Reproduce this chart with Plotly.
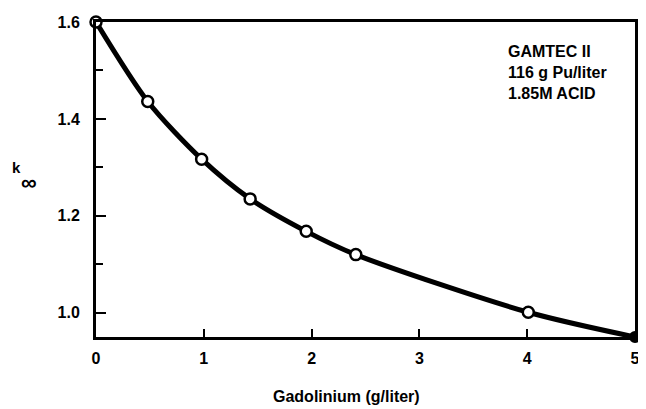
import plotly.graph_objects as go

gd = [0.0, 0.48, 0.98, 1.43, 1.95, 2.41, 4.01, 5.0]
kinf = [1.600, 1.436, 1.317, 1.235, 1.168, 1.120, 1.001, 0.950]
open_pts = 7  # first seven points drawn as open circles, last is filled

y_ticks = [1.0, 1.2, 1.4, 1.6]
y_labels = ["1.0", "1.2", "1.4", "1.6"]
x_ticks = [0, 1, 2, 3, 4, 5]
x_labels = ["0", "1", "2", "3", "4", "5"]

font = "Liberation Sans"

fig = go.Figure()
fig.add_trace(go.Scatter(
    x=gd, y=kinf, mode="lines",
    line=dict(color="black", width=5, shape="spline", smoothing=0.8),
    cliponaxis=False, hoverinfo="skip"))
fig.add_trace(go.Scatter(
    x=gd[:open_pts], y=kinf[:open_pts], mode="markers",
    marker=dict(symbol="circle", size=11, color="white",
                line=dict(color="black", width=2.5)),
    cliponaxis=False))
fig.add_trace(go.Scatter(
    x=gd[open_pts:], y=kinf[open_pts:], mode="markers",
    marker=dict(symbol="circle", size=10, color="black",
                line=dict(color="black", width=2)),
    cliponaxis=False))

fig.update_layout(
    width=638, height=401,
    margin=dict(l=88, r=6, t=9, b=72),
    paper_bgcolor="white", plot_bgcolor="white",
    showlegend=False,
    font=dict(family=font, color="black"),
    xaxis=dict(range=[0, 5], tickvals=x_ticks, ticktext=x_labels,
               ticks="inside", ticklen=8, tickwidth=1.5, tickcolor="black",
               ticklabelstandoff=5, ticklabeloverflow="allow",
               showline=True, linecolor="black", linewidth=3, mirror=True,
               showgrid=False, zeroline=False,
               tickfont=dict(size=16, family=font, weight="bold")),
    yaxis=dict(range=[0.95, 1.6], tickvals=y_ticks, ticktext=y_labels,
               ticks="inside", ticklen=10, tickwidth=1.5, tickcolor="black",
               ticklabelstandoff=10, ticklabeloverflow="allow",
               minor=dict(tickvals=[1.1, 1.3, 1.5], ticks="inside", ticklen=7,
                          tickwidth=1.5, tickcolor="black"),
               showline=True, linecolor="black", linewidth=3, mirror=True,
               showgrid=False, zeroline=False,
               tickfont=dict(size=16, family=font, weight="bold")),
)

fig.add_annotation(xref="paper", yref="paper", x=0.465, y=-0.1875,
                   text="Gadolinium (g/liter)", showarrow=False,
                   xanchor="center", yanchor="middle",
                   font=dict(size=16, family=font, weight="bold"))
fig.add_annotation(xref="paper", yref="paper", x=-0.147, y=0.537,
                   text="k", showarrow=False,
                   font=dict(size=15, family=font, weight="bold"),
                   xanchor="center", yanchor="middle")
fig.add_annotation(xref="paper", yref="paper", x=-0.125, y=0.49,
                   text="∞", showarrow=False,
                   font=dict(size=22, family=font, weight="bold"),
                   xanchor="center", yanchor="middle")
fig.add_annotation(xref="paper", yref="paper", x=0.761, y=0.94,
                   text="GAMTEC II<br>116 g Pu/liter<br>1.85M ACID",
                   showarrow=False, align="left",
                   xanchor="left", yanchor="top",
                   font=dict(size=16, family=font, weight="bold"))

fig.write_html("out.html")
